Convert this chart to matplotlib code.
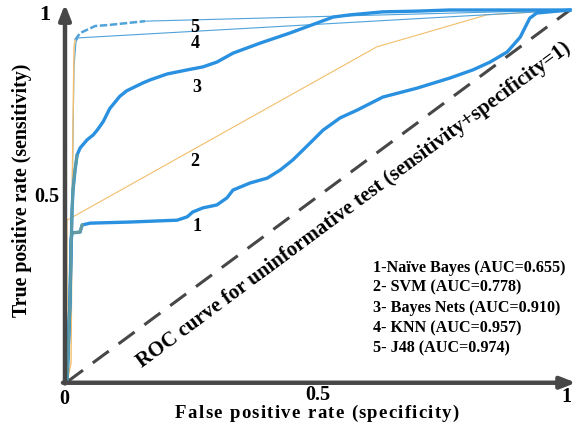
import matplotlib
matplotlib.use("Agg")
import matplotlib.pyplot as plt
from matplotlib.font_manager import FontProperties

# ---- data ----
nb_fpr = [0, 0.006, 0.008, 0.010, 0.026, 0.030, 0.046, 0.125, 0.219, 0.239, 0.250, 0.270, 0.298,
          0.318, 0.330, 0.364, 0.398, 0.424, 0.449, 0.483, 0.509, 0.543, 0.577, 0.628, 0.696,
          0.761, 0.807, 0.841, 0.875, 0.901, 0.920, 0.934, 1.0]
nb_tpr = [0, 0.220, 0.382, 0.401, 0.403, 0.422, 0.427, 0.430, 0.435, 0.444, 0.457, 0.468, 0.476,
          0.495, 0.516, 0.535, 0.548, 0.570, 0.597, 0.642, 0.677, 0.710, 0.731, 0.766, 0.790,
          0.817, 0.839, 0.860, 0.887, 0.927, 0.978, 0.992, 1.0]

bn_fpr = [0, 0.006, 0.010, 0.012, 0.016, 0.020, 0.026, 0.040, 0.052, 0.060, 0.072, 0.085, 0.105,
          0.119, 0.151, 0.165, 0.199, 0.239, 0.270, 0.298, 0.330, 0.384, 0.443, 0.497, 0.529,
          0.563, 0.628, 0.696, 0.761, 1.0]
bn_tpr = [0, 0.220, 0.462, 0.516, 0.570, 0.610, 0.629, 0.651, 0.664, 0.677, 0.700, 0.735, 0.768,
          0.783, 0.804, 0.812, 0.828, 0.839, 0.847, 0.860, 0.884, 0.911, 0.938, 0.965, 0.981,
          0.987, 0.995, 0.997, 1.0, 1.0]

svm_fpr = [0, 0, 0.616, 0.835, 1.0]
svm_tpr = [0, 0.435, 0.901, 0.987, 1.0]

knn_fpr = [0, 0.008, 0.014, 0.018, 0.022, 1.0]
knn_tpr = [0, 0.30, 0.85, 0.915, 0.925, 1.0]

j48_rise_fpr = [0, 0.008, 0.011, 0.014, 0.016]
j48_rise_tpr = [0, 0.05, 0.60, 0.90, 0.919]
j48_fpr = [0.016, 0.026, 0.056, 0.085, 0.155]
j48_tpr = [0.919, 0.938, 0.957, 0.960, 0.970]
j48_tail_fpr = [0.155, 1.0]
j48_tail_tpr = [0.970, 1.0]

legend_lines = ["1-Naïve Bayes (AUC=0.655)", "2- SVM (AUC=0.778)", "3- Bayes Nets (AUC=0.910)",
                "4- KNN (AUC=0.957)", "5- J48 (AUC=0.974)"]
curve_numbers = ["5", "4", "3", "2", "1"]
x_title = "False positive rate (specificity)"
y_title = "True positive rate (sensitivity)"
diag_title = "ROC curve for uninformative test (sensitivity+specificity=1)"

# ---- figure ----
W, H = 575, 432
fig = plt.figure(figsize=(W / 100, H / 100), dpi=100)
ax = fig.add_axes([67 / W, 50 / H, 503 / W, 372 / H])
ax.set_xlim(0, 1)
ax.set_ylim(0, 1)
ax.axis("off")

serif = "Liberation Serif"
blue = "#2A90E0"
lightblue = "#4FA3DA"
orange = "#F2BE6A"
axc = "#474747"

# diagonal reference
ax.plot([0, 1], [0, 1], color=axc, lw=2.2, dashes=(6.5, 4.0), clip_on=False, zorder=2)

# curves
ax.plot(svm_fpr, svm_tpr, color=orange, lw=0.8, clip_on=False, zorder=3)
ax.plot(knn_fpr, knn_tpr, color=lightblue, lw=0.8, clip_on=False, zorder=3)
ax.plot(j48_tail_fpr, j48_tail_tpr, color=lightblue, lw=0.8, clip_on=False, zorder=3)
ax.plot(j48_fpr, j48_tpr, color=lightblue, lw=1.8, dashes=(3, 1), clip_on=False, zorder=4)
ax.plot(j48_rise_fpr, j48_rise_tpr, color=orange, lw=1.0, clip_on=False, zorder=4)
ax.plot(nb_fpr, nb_tpr, color=blue, lw=2.4, clip_on=False, zorder=5, solid_joinstyle="round")
ax.plot(nb_fpr[:6], nb_tpr[:6], color="#6A9C9C", lw=2.0, clip_on=False, zorder=5)
ax.plot(bn_fpr, bn_tpr, color=blue, lw=2.4, clip_on=False, zorder=5, solid_joinstyle="round")
ax.plot(bn_fpr[:6], bn_tpr[:6], color="#5B9AA6", lw=2.0, clip_on=False, zorder=5)

# axes with arrows
arrow = dict(arrowstyle="-|>,head_width=0.35,head_length=0.9", lw=3.2, color=axc,
             shrinkA=0, shrinkB=0)
ax.annotate("", xy=(-0.004, 1.016), xytext=(-0.004, -0.004), arrowprops=arrow,
            annotation_clip=False, zorder=6)
ax.annotate("", xy=(1.012, -0.002), xytext=(-0.008, -0.002), arrowprops=arrow,
            annotation_clip=False, zorder=6)

tb = dict(fontfamily=serif, fontweight="bold", color="black")
# tick labels
ax.text(-0.044, 0.987, "1", fontsize=16, ha="center", va="center", **tb)
ax.text(-0.040, 0.497, "0.5", fontsize=14.5, ha="center", va="center", **tb)
ax.text(-0.006, -0.045, "0", fontsize=14.5, ha="center", va="center", **tb)
ax.text(0.499, -0.035, "0.5", fontsize=14.5, ha="center", va="center", **tb)
ax.text(0.993, -0.040, "1", fontsize=14.5, ha="center", va="center", **tb)


# letter-spaced x title
def spaced_text(s, cx_px, base_px, size, extra_px):
    renderer = fig.canvas.get_renderer()
    prop = FontProperties(family=serif, weight="bold", size=size)
    wx = renderer.get_text_width_height_descent("x", prop, ismath=False)[0]

    def w(t):
        return renderer.get_text_width_height_descent(t + "x", prop, ismath=False)[0] - wx

    total = w(s) + extra_px * (len(s) - 1)
    x0 = cx_px - total / 2
    for i, ch in enumerate(s):
        if ch == " ":
            continue
        x = x0 + w(s[:i]) + extra_px * i
        fig.text(x / W, 1 - base_px / H, ch, fontproperties=prop, ha="left",
                 va="baseline", color="black")


spaced_text(x_title, 317, 418, 13.5, 1.3)
ax.text(-0.089, 0.516, y_title, fontsize=14.3, ha="center", va="center", rotation=90, **tb)

# diagonal caption
ax.text(0.570, 0.476, diag_title, fontsize=15, ha="center", va="center", rotation=36.5,
        rotation_mode="anchor", **tb)

# curve numbers
num_pos = [(0.254, 0.954), (0.254, 0.909), (0.258, 0.793), (0.254, 0.594), (0.258, 0.419)]
for lab, (x, y) in zip(curve_numbers, num_pos):
    ax.text(x, y, lab, fontsize=13, ha="center", va="center", **tb)

# legend text
leg_y = [0.306, 0.253, 0.199, 0.145, 0.091]
for lab, y in zip(legend_lines, leg_y):
    ax.text(0.608, y, lab, fontsize=11.6, ha="left", va="center", **tb)

fig.savefig("out.png", dpi=100)
